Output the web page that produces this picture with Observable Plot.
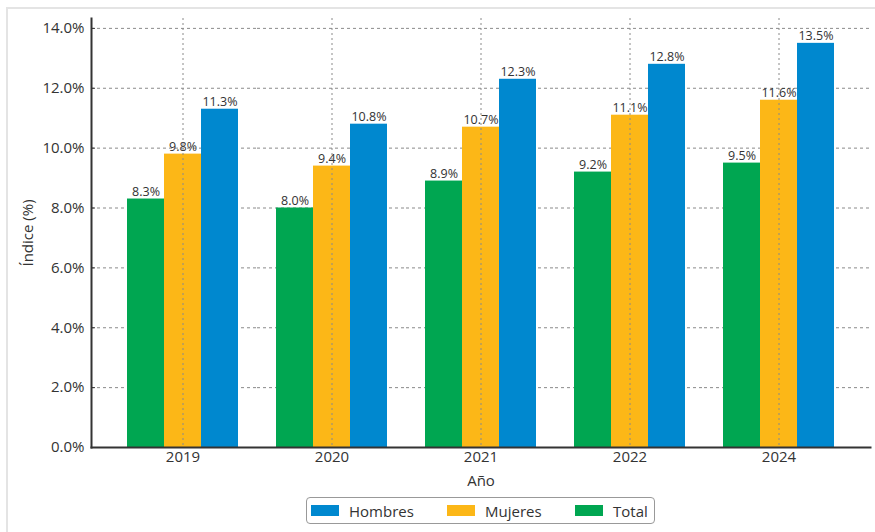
<!DOCTYPE html>
<html>
<head>
<meta charset="utf-8">
<script src="https://cdn.jsdelivr.net/npm/d3@7"></script>
<script src="https://cdn.jsdelivr.net/npm/@observablehq/plot@0.6"></script>
<style>
  html, body { margin: 0; padding: 0; background: #fff; }
  body { position: relative; width: 875px; height: 532px; overflow: hidden; font-family: "Open Sans", sans-serif; }
  #frame { position: absolute; left: 6px; top: 7px; width: 2000px; height: 2000px; border: 2px solid #e4e4e4; pointer-events: none; }
  #chart svg { display: block; }
  #legend { position: absolute; left: 306px; top: 497px; width: 347px; height: 25px; border: 1px solid #999; border-radius: 4px;
            font-size: 15px; color: #333; box-sizing: content-box; }
  .item { display: flex; align-items: center; position: absolute; top: 0; height: 25px; }
  .sw { width: 28px; height: 11px; margin-right: 10px; }
</style>
</head>
<body>
<div id="chart"></div>
<div id="legend"></div>
<div id="frame"></div>
<script>
const years = ["2019", "2020", "2021", "2022", "2024"];
const series = ["Total", "Mujeres", "Hombres"];
const totalValues = [8.3, 8.0, 8.9, 9.2, 9.5];
const mujeresValues = [9.8, 9.4, 10.7, 11.1, 11.6];
const hombresValues = [11.3, 10.8, 12.3, 12.8, 13.5];
const colors = {Total: "#00A651", Mujeres: "#FCB717", Hombres: "#0088CF"};
const yTicks = [0, 2, 4, 6, 8, 10, 12, 14];
const legendOrder = ["Hombres", "Mujeres", "Total"];

const valuesBySeries = {Total: totalValues, Mujeres: mujeresValues, Hombres: hombresValues};
const data = [];
years.forEach((year, i) => {
  series.forEach(s => data.push({year, series: s, value: valuesBySeries[s][i]}));
});
const gridData = years.flatMap(year => yTicks.slice(1).map(v => ({year, v})));
const first = years[0], last = years[years.length - 1];

const fmt = d => d.toFixed(1) + "%";
const ext = 17; // space between the outer facets and the plot frame
const gridStyle = {fx: "year", y: "v", stroke: "#8a8a8a", strokeDasharray: "3,3", strokeWidth: 1};

const plot = Plot.plot({
  width: 875,
  height: 490,
  marginLeft: 91,
  marginRight: 5,
  marginTop: 18,
  marginBottom: 43,
  style: {fontFamily: "Open Sans", fontSize: "15px", color: "#333"},
  fx: {domain: years, paddingInner: 0, paddingOuter: 0.114, label: "Año"},
  x: {domain: series, paddingInner: 0, paddingOuter: 0.49, axis: null},
  y: {domain: [0, 14.33], ticks: yTicks, tickFormat: fmt, label: "Índice (%)"},
  color: {domain: series, range: series.map(s => colors[s])},
  marks: [
    Plot.ruleY(gridData.filter(d => d.year === first), {...gridStyle, insetLeft: -ext}),
    Plot.ruleY(gridData.filter(d => d.year === last), {...gridStyle, insetRight: -ext}),
    Plot.ruleY(gridData.filter(d => d.year !== first && d.year !== last), gridStyle),
    Plot.barY(data, {fx: "year", x: "series", y: "value", fill: "series"}),
    Plot.text(data, {fx: "year", x: "series", y: "value", text: d => fmt(d.value), lineAnchor: "bottom", dy: -3, fontSize: 12.5, fill: "#333"}),
    Plot.gridFx({stroke: "#8a8a8a", strokeOpacity: 1, strokeDasharray: "2,3"}),
    Plot.axisY({ticks: yTicks, tickFormat: fmt, tickSize: -4, tickPadding: 11, dx: -ext, label: "Índice (%)", labelAnchor: "center", labelArrow: "none", labelOffset: 86, fontSize: 15}),
    Plot.axisFx({anchor: "bottom", tickSize: 0, tickPadding: 4, label: "Año", labelAnchor: "center", labelArrow: "none", labelOffset: 38, fontSize: 15}),
    Plot.frame({anchor: "bottom", facet: "super", stroke: "#333", strokeWidth: 2, insetLeft: -ext, insetRight: -ext}),
    Plot.frame({anchor: "left", facet: "super", stroke: "#333", strokeWidth: 2, insetLeft: -ext})
  ]
});
document.getElementById("chart").appendChild(plot);

const legend = document.getElementById("legend");
const lefts = [4, 140, 268];
legendOrder.forEach((s, i) => {
  const item = document.createElement("div");
  item.className = "item";
  item.style.left = lefts[i] + "px";
  const sw = document.createElement("div");
  sw.className = "sw";
  sw.style.background = colors[s];
  const t = document.createElement("span");
  t.textContent = s;
  item.appendChild(sw);
  item.appendChild(t);
  legend.appendChild(item);
});
</script>
</body>
</html>
